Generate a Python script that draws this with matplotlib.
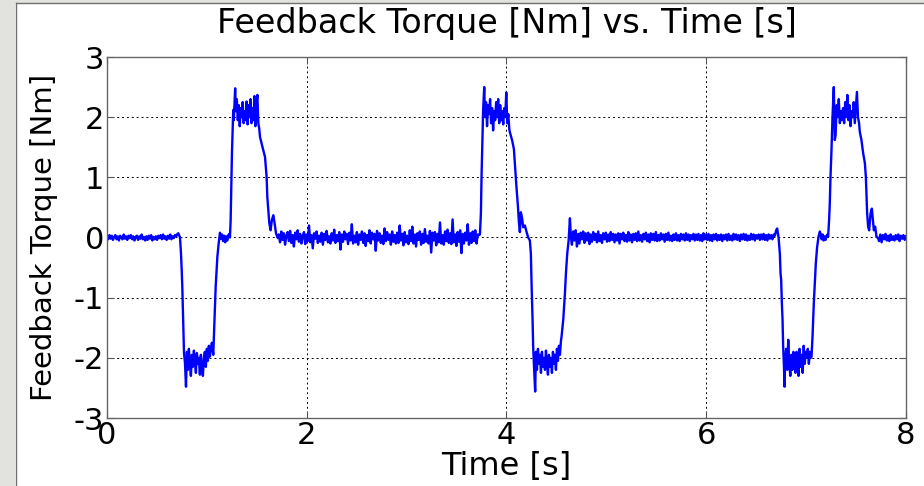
import numpy as np
import matplotlib

matplotlib.use("Agg")
import matplotlib.pyplot as plt
from matplotlib.patches import Rectangle

# torque trace, piece by piece
# flat / plateau pieces: (start, end) span plus sampled values
zero_1_span = (0.0, 0.705)
zero_1 = [0.02, -0.03, 0.04, -0.02, 0.03, -0.04, 0.01, 0.04, -0.03, 0.02,
          -0.05, 0.03, 0.00, -0.03, 0.05, -0.02, 0.02, -0.04, 0.03, -0.01,
          0.04, -0.03, 0.02, -0.05, 0.01, 0.03, -0.04, 0.02, -0.02, 0.05,
          -0.03, 0.01, -0.05, 0.02, -0.04, 0.03, -0.02, 0.04, -0.05, 0.01,
          -0.03, 0.02, -0.04, 0.03, -0.01, 0.04, -0.03, 0.05, -0.02, 0.02,
          -0.04, 0.03, -0.02, 0.05, -0.03, 0.02, -0.01, 0.04, 0.02, 0.06]
drop_1_t = [0.714, 0.731, 0.741, 0.748, 0.754, 0.764, 0.771, 0.781, 0.791]
drop_1_v = [0.07, 0.0, -0.27, -0.54, -0.82, -1.43, -1.92, -2.09, -2.48]
neg_1_span = (0.80, 1.06)
neg_1 = [-1.9, -2.2, -1.85, -2.1, -2.3, -1.95, -2.15, -1.88, -2.05, -2.25,
         -1.92, -2.1, -2.0, -2.28, -1.95, -2.18, -2.3, -2.0, -1.9, -2.15,
         -1.85, -2.05, -1.8, -1.98, -1.85, -1.75, -1.9]
rise_1_t = [1.064, 1.074, 1.088, 1.105, 1.118]
rise_1_v = [-1.95, -1.48, -0.82, -0.32, -0.1]
mid_1_span = (1.131, 1.225)
mid_1 = [0.08, -0.02, 0.05, -0.06, 0.03, -0.08, 0.02, -0.05, 0.04, 0.06]
rise_1b_t = [1.231, 1.238, 1.245, 1.251, 1.258, 1.264, 1.27, 1.283]
rise_1b_v = [0.0, 0.29, 0.85, 1.4, 1.78, 2.12, 1.95, 2.48]
pos_1_span = (1.29, 1.525)
pos_1 = [2.1, 2.3, 1.95, 2.2, 1.85, 2.15, 2.0, 2.25, 1.9, 2.1,
         1.95, 2.26, 1.88, 2.2, 2.0, 2.3, 1.9, 2.15, 1.95, 2.35,
         1.85, 2.2, 2.37, 1.9, 1.8]
fall_1_t = [1.532, 1.548, 1.565, 1.582, 1.598, 1.605, 1.615, 1.625, 1.638,
            1.651, 1.665, 1.678, 1.692, 1.71]
fall_1_v = [1.67, 1.56, 1.45, 1.34, 1.01, 0.68, 0.46, 0.24, 0.12,
            0.29, 0.37, 0.24, 0.07, -0.01]
zero_2_span = (1.72, 3.725)
zero_2 = [0.05, -0.08, 0.1, -0.04, 0.07, -0.12, 0.03, 0.09, -0.06, 0.11,
          -0.09, 0.04, -0.15, 0.08, -0.03, 0.12, -0.07, 0.06, -0.1, 0.02,
          0.09, -0.11, 0.05, -0.06, 0.2, -0.08, 0.04, -0.18, 0.07, -0.02,
          0.1, -0.09, 0.03, -0.07, 0.08, -0.12, 0.06, -0.04, 0.11, -0.08,
          0.02, -0.1, 0.07, -0.05, 0.13, -0.09, 0.04, -0.06, 0.09, -0.2,
          0.05, -0.07, 0.1, -0.03, 0.06, -0.11, 0.08, -0.05, 0.22, -0.1,
          0.03, -0.08, 0.09, -0.12, 0.05, -0.04, 0.1, -0.09, 0.07, -0.14,
          0.04, -0.06, 0.12, -0.1, 0.08, -0.03, 0.06, -0.22, 0.11, -0.05,
          0.07, -0.09, 0.03, -0.11, 0.15, -0.06, 0.09, -0.04, 0.05, -0.12,
          0.1, -0.07, 0.04, -0.1, 0.08, -0.09, 0.2, -0.05, 0.06, -0.13,
          0.09, -0.08, 0.03, -0.11, 0.12, -0.06, 0.18, -0.1, 0.05, -0.15,
          0.07, -0.04, 0.1, -0.12, 0.06, -0.09, 0.14, -0.07, 0.03, -0.1,
          0.11, -0.25, 0.08, -0.05, 0.09, -0.13, 0.06, -0.08, 0.25, -0.1,
          0.04, -0.12, 0.1, -0.06, 0.13, -0.09, 0.07, -0.11, 0.3, -0.08,
          0.05, -0.14, 0.09, -0.07, 0.12, -0.26, 0.06, -0.1, 0.08, -0.05,
          0.22, -0.12, 0.07, -0.09, 0.1, -0.06, 0.12, -0.1, 0.05, 0.04]
rise_2_t = [3.734, 3.744, 3.75, 3.76, 3.766, 3.777]
rise_2_v = [0.05, 0.42, 1.01, 1.67, 2.12, 2.5]
pos_2_span = (3.785, 4.028)
pos_2 = [2.0, 2.25, 1.85, 2.2, 2.05, 2.3, 1.9, 2.15, 1.78, 2.1,
         1.95, 2.25, 2.0, 2.3, 1.9, 2.2, 1.95, 2.1, 1.88, 2.15,
         2.0, 2.41, 1.9, 2.05, 1.8]
fall_2_t = [4.034, 4.057, 4.074, 4.087, 4.101, 4.114, 4.124, 4.134, 4.144,
            4.157, 4.167, 4.184, 4.201, 4.217, 4.234, 4.244, 4.251, 4.261,
            4.267, 4.274, 4.287]
fall_2_v = [1.75, 1.61, 1.47, 1.14, 0.81, 0.53, 0.26, 0.09, 0.42,
            0.31, 0.17, 0.2, 0.09, 0.0, -0.05, -0.27, -0.77, -1.37,
            -1.81, -2.09, -2.56]
neg_2_span = (4.295, 4.545)
neg_2 = [-1.9, -2.2, -1.85, -2.1, -1.95, -2.25, -1.9, -2.15, -2.0, -2.2,
         -1.88, -2.1, -2.28, -1.95, -2.15, -2.0, -2.25, -1.9, -2.1, -1.95,
         -2.2, -1.85, -2.05, -1.8, -1.95, -1.72]
rise_2b_t = [4.551, 4.568, 4.585, 4.595, 4.608, 4.622, 4.635, 4.645]
rise_2b_v = [-1.65, -1.37, -0.93, -0.6, -0.27, -0.05, 0.32, 0.0]
zero_3_span = (4.655, 6.70)
zero_3 = [-0.12, 0.1, -0.05, 0.12, -0.15, 0.06, -0.1, 0.08, -0.03, 0.1,
          -0.09, 0.07, -0.05, 0.08, -0.11, 0.05, -0.07, 0.09, -0.04, 0.06,
          -0.08, 0.1, -0.06, 0.04, -0.09, 0.07, -0.03, 0.08, -0.07, 0.05,
          -0.06, 0.09, -0.04, 0.06, -0.08, 0.05, -0.05, 0.07, -0.1, 0.06,
          -0.03, 0.08, -0.06, 0.04, -0.07, 0.09, -0.05, 0.05, -0.08, 0.06,
          -0.04, 0.07, -0.06, 0.1, -0.05, 0.04, -0.07, 0.06, -0.03, 0.08,
          -0.06, 0.05, -0.08, 0.07, -0.04, 0.06, -0.05, 0.09, -0.06, 0.04,
          -0.05, 0.07, -0.03, 0.05, -0.07, 0.06, -0.04, 0.08, -0.05, 0.03,
          -0.06, 0.05, -0.04, 0.07, -0.05, 0.04, -0.06, 0.06, -0.03, 0.05,
          -0.05, 0.07, -0.04, 0.05, -0.06, 0.04, -0.03, 0.06, -0.05, 0.05,
          -0.04, 0.06, -0.05, 0.04, -0.06, 0.07, -0.03, 0.05, -0.04, 0.06,
          -0.05, 0.04, -0.06, 0.05, -0.03, 0.06, -0.05, 0.04, -0.04, 0.05,
          -0.06, 0.04, -0.03, 0.05, -0.05, 0.06, -0.04, 0.03, -0.05, 0.06,
          -0.03, 0.05, -0.04, 0.04, -0.06, 0.05, -0.03, 0.06, -0.04, 0.05,
          -0.05, 0.03, -0.04, 0.06, -0.03, 0.05, -0.05, 0.04, -0.02, 0.05,
          -0.04, 0.05, -0.03, 0.06, -0.04, 0.04, -0.05, 0.05, -0.02, 0.04,
          -0.03, 0.05, 0.03, 0.12]
drop_3_t = [6.71, 6.724, 6.737, 6.744, 6.75, 6.757, 6.764, 6.77, 6.777, 6.784]
drop_3_v = [0.15, 0.0, -0.27, -0.6, -0.7, -1.09, -1.37, -1.81, -2.09, -2.48]
neg_3_span = (6.79, 7.048)
neg_3 = [-2.05, -1.85, -2.2, -1.7, -2.1, -2.3, -1.95, -2.2, -1.9, -2.1,
         -2.25, -1.9, -2.05, -2.3, -1.85, -2.15, -1.95, -2.25, -1.8, -2.1,
         -1.9, -2.0, -1.85, -2.1, -1.9, -2.0]
rise_3_t = [7.054, 7.064, 7.077, 7.087, 7.097, 7.11, 7.124, 7.137]
rise_3_v = [-1.98, -1.65, -1.09, -0.76, -0.43, -0.16, 0.01, 0.1]
mid_3_span = (7.145, 7.215)
mid_3 = [0.06, -0.03, 0.05, -0.05, 0.02, -0.04, 0.03, 0.05]
rise_3b_t = [7.22, 7.23, 7.237, 7.244, 7.254, 7.264, 7.277, 7.287]
rise_3b_v = [0.01, 0.29, 0.57, 1.01, 1.45, 2.0, 2.5, 1.62]
pos_3_span = (7.295, 7.53)
pos_3 = [1.7, 2.2, 2.0, 2.3, 1.9, 2.1, 1.95, 2.15, 1.9, 2.25,
         2.0, 2.37, 1.95, 2.2, 1.85, 2.1, 2.0, 2.25, 1.9, 2.15,
         2.42, 2.0, 1.9]
fall_3_t = [7.538, 7.554, 7.571, 7.588, 7.598, 7.605, 7.611, 7.621, 7.631,
            7.645, 7.658, 7.668, 7.678, 7.691, 7.705, 7.721]
fall_3_v = [1.75, 1.62, 1.4, 1.24, 1.01, 0.68, 0.4, 0.18, 0.12,
            0.4, 0.48, 0.29, 0.12, 0.18, 0.01, -0.01]
zero_4_span = (7.73, 8.0)
zero_4 = [-0.06, 0.05, -0.08, 0.04, -0.03, 0.06, -0.05, 0.03, -0.06, 0.05,
          -0.04, 0.02, -0.05, 0.04, -0.03, 0.05, -0.06, 0.03, -0.02, 0.04,
          -0.04, 0.02]

x_ticks = [0, 2, 4, 6, 8]
y_ticks = [-3, -2, -1, 0, 1, 2, 3]

pieces = [
    (zero_1_span, zero_1), (drop_1_t, drop_1_v), (neg_1_span, neg_1),
    (rise_1_t, rise_1_v), (mid_1_span, mid_1), (rise_1b_t, rise_1b_v),
    (pos_1_span, pos_1), (fall_1_t, fall_1_v), (zero_2_span, zero_2),
    (rise_2_t, rise_2_v), (pos_2_span, pos_2), (fall_2_t, fall_2_v),
    (neg_2_span, neg_2), (rise_2b_t, rise_2b_v), (zero_3_span, zero_3),
    (drop_3_t, drop_3_v), (neg_3_span, neg_3), (rise_3_t, rise_3_v),
    (mid_3_span, mid_3), (rise_3b_t, rise_3b_v), (pos_3_span, pos_3),
    (fall_3_t, fall_3_v), (zero_4_span, zero_4),
]

time, torque = [], []
for times, values in pieces:
    if isinstance(times, tuple):
        times = np.linspace(times[0], times[1], len(values))
    time.extend(times)
    torque.extend(values)

plt.rcParams["font.family"] = ["DejaVu Sans"]
plt.rcParams["axes.unicode_minus"] = False

fig = plt.figure(figsize=(9.24, 4.86), dpi=100)
fig.patch.set_facecolor("white")

# window frame at the left/top edge of the screenshot
fig.patches.append(Rectangle((0, 0), 15 / 924, 1, transform=fig.transFigure,
                             facecolor="#e2e2de", edgecolor="none", zorder=0))
fig.patches.append(Rectangle((0, 1 - 3 / 486), 1, 3 / 486, transform=fig.transFigure,
                             facecolor="#e2e2de", edgecolor="none", zorder=0))
fig.add_artist(plt.Line2D([15.5 / 924, 15.5 / 924], [0, 1 - 3 / 486], transform=fig.transFigure,
                          color="#707070", lw=1))
fig.add_artist(plt.Line2D([15.5 / 924, 1], [1 - 3.5 / 486, 1 - 3.5 / 486], transform=fig.transFigure,
                          color="#707070", lw=1))

ax = fig.add_axes([107 / 924, 1 - 418 / 486, 799 / 924, 361 / 486])
ax.plot(time, torque, color="#0000ff", linewidth=1.7)

ax.set_xlim(0, 8)
ax.set_ylim(-3, 3)
ax.set_xticks(x_ticks)
ax.set_yticks(y_ticks)
ax.grid(True, color="black", linestyle=(0, (2, 3)), linewidth=0.7)
ax.tick_params(direction="in", length=5, width=0.8, color="#555555",
               labelsize=22, pad=2, top=True, right=True)
for spine in ax.spines.values():
    spine.set_color("#666666")
    spine.set_linewidth(1.0)

ax.set_title("Feedback Torque [Nm] vs. Time [s]", fontsize=24, pad=17)
ax.set_xlabel("Time [s]", fontsize=23)
ax.xaxis.set_label_coords(0.5, -0.092)
ax.set_ylabel("Feedback Torque [Nm]", fontsize=21)
ax.yaxis.set_label_coords(-0.061, 0.5)

plt.savefig("out.png", dpi=100)
plt.close()
